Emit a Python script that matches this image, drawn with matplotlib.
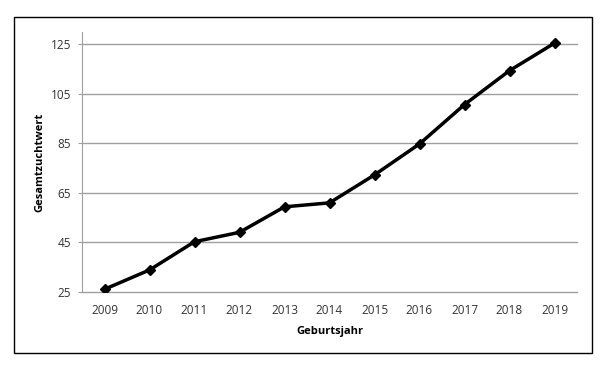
import matplotlib
matplotlib.use("Agg")
import matplotlib.pyplot as plt
from matplotlib.patches import Rectangle

years = ["2009", "2010", "2011", "2012", "2013", "2014", "2015", "2016", "2017", "2018", "2019"]
values = [26.1, 33.9, 45.3, 49.1, 59.4, 61.0, 72.3, 84.8, 100.7, 114.4, 125.5]
yticks = [25, 45, 65, 85, 105, 125]

plt.rcParams['font.family'] = ['Open Sans', 'DejaVu Sans']

fig = plt.figure(figsize=(6, 3.68), dpi=100)
fig.patches.append(Rectangle((14/600, 1-353/368), (592-14)/600, (353-17)/368,
                             transform=fig.transFigure, fill=False, edgecolor='black', linewidth=1.0))
ax = fig.add_axes([82/600, 1-292/368, (577-82)/600, (292-32)/368])

x = list(range(len(years)))
ax.plot(x, values, color='black', linewidth=2.5, marker='D', markersize=5.5, zorder=3)

ax.set_xlim(-0.5, len(years) - 0.5)
ax.set_ylim(25, 130)
ax.set_yticks(yticks)
ax.set_yticklabels([str(v) for v in yticks], fontsize=8.5, color='#333333')
ax.set_xticks(x)
ax.set_xticklabels(years, fontsize=8.5, color='#333333')
ax.tick_params(axis='x', length=0, pad=9)
ax.tick_params(axis='y', length=3, color='#a0a0a0', pad=5)
ax.grid(axis='y', color='#a0a0a0', linewidth=1)
for gl in ax.get_ygridlines():
    gl.set_clip_on(False)
ax.set_axisbelow(True)
for s in ['top', 'right', 'bottom']:
    ax.spines[s].set_visible(False)
ax.spines['left'].set_color('#a0a0a0')
ax.set_xlabel('Geburtsjahr', fontsize=8, fontweight='bold', labelpad=6)
ax.set_ylabel('Gesamtzuchtwert', fontsize=8, fontweight='bold', labelpad=4)

fig.savefig('out.png', dpi=100)
